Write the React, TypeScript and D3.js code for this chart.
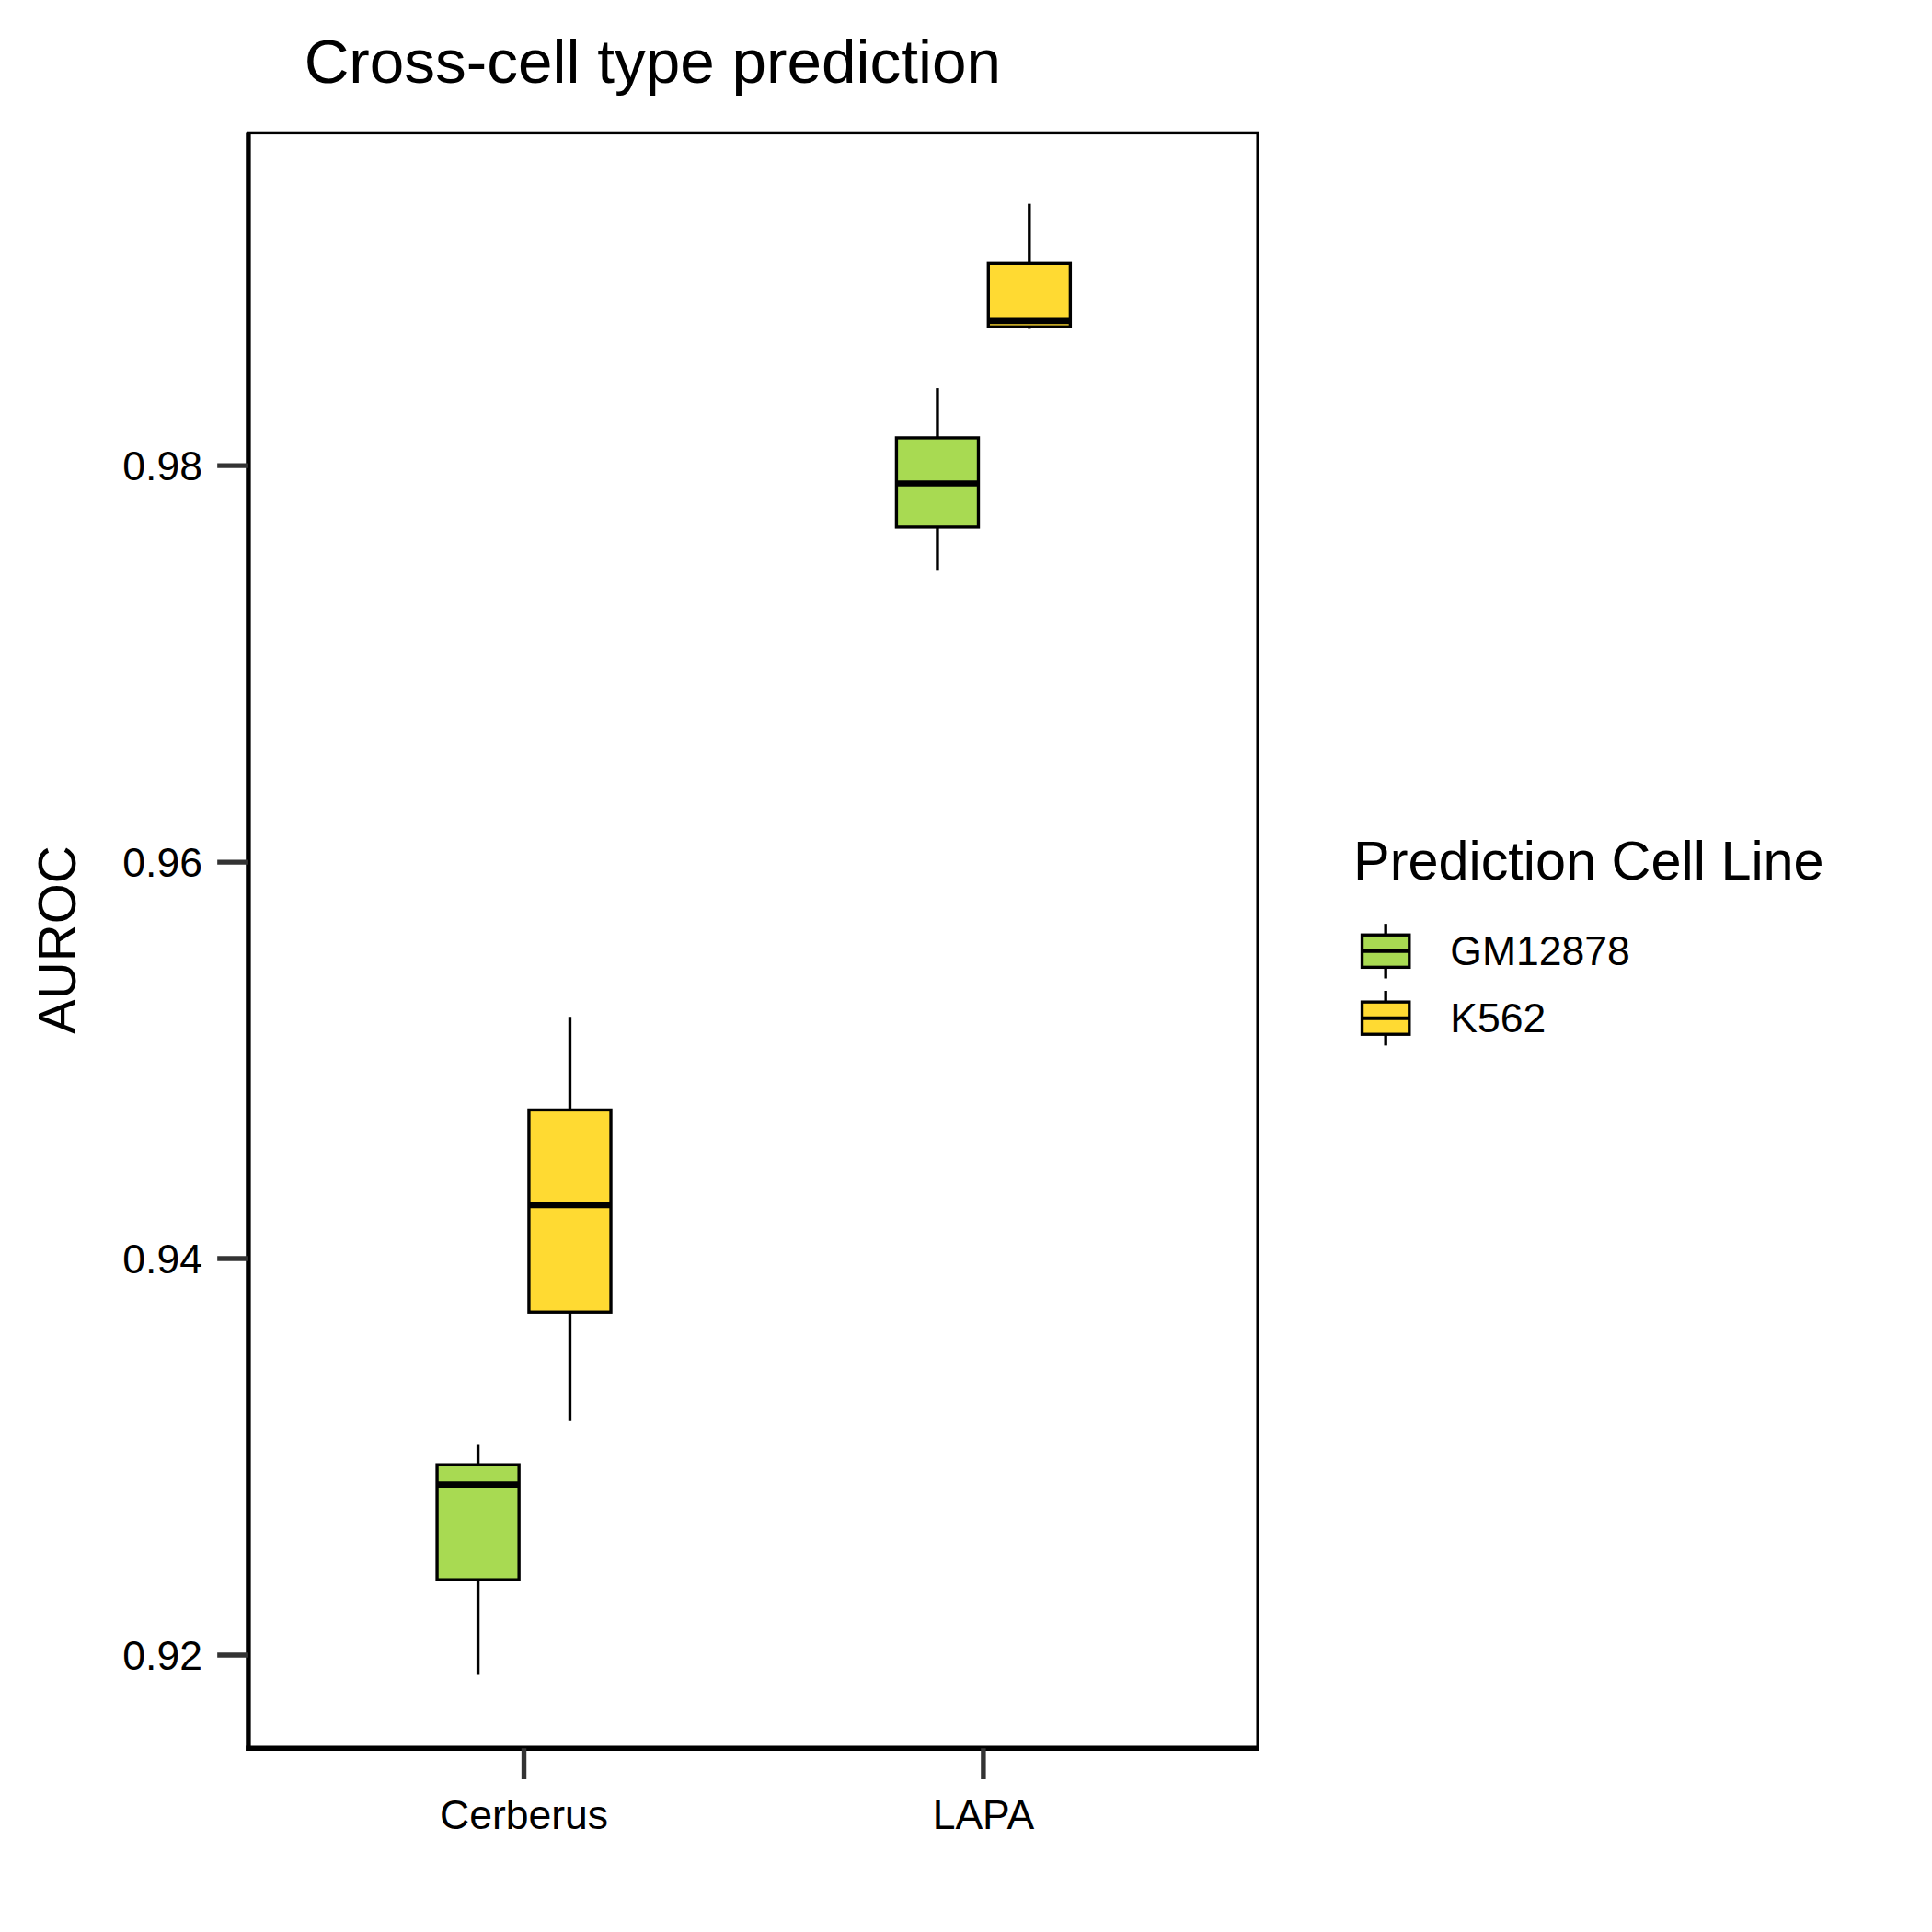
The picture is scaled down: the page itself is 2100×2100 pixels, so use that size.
import React, { useRef, useEffect } from "react";
import * as d3 from "d3";

// Box statistics: [min, q1, median, q3, max]
const methods = ["Cerberus", "LAPA"];
const cellLines = ["GM12878", "K562"];
const colors = ["#A8DA52", "#FFDA32"];
const stats: Record<string, number[][]> = {
  Cerberus: [
    [0.919, 0.9238, 0.9286, 0.9296, 0.9306],
    [0.9318, 0.9373, 0.9427, 0.9475, 0.9522],
  ],
  LAPA: [
    [0.9747, 0.9769, 0.9791, 0.9814, 0.9839],
    [0.9869, 0.987, 0.9873, 0.9902, 0.9932],
  ],
};
const yTicks = [0.92, 0.94, 0.96, 0.98];

const App: React.FC = () => {
  const svgRef = useRef<SVGSVGElement>(null);

  useEffect(() => {
    if (!svgRef.current) return;
    const svg = d3.select(svgRef.current);
    svg.selectAll("*").remove();
    const font = "Liberation Sans, Arial, sans-serif";
    const L = 200, R = 1013, T = 107, B = 1408;

    const y = d3.scaleLinear().domain([0.92, 0.98]).range([1333, 375]);
    const x = d3.scalePoint().domain(methods).range([422, 792]);
    const dodge = 37, bw = 66;

    svg.append("rect").attr("x", L).attr("y", T).attr("width", R - L).attr("height", B - T)
      .attr("fill", "none").attr("stroke", "#000").attr("stroke-width", 2.5);
    svg.append("line").attr("x1", L).attr("x2", L).attr("y1", T).attr("y2", B + 2)
      .attr("stroke", "#000").attr("stroke-width", 4);
    svg.append("line").attr("x1", L - 2).attr("x2", R + 1).attr("y1", B).attr("y2", B)
      .attr("stroke", "#000").attr("stroke-width", 4);

    yTicks.forEach((t) => {
      svg.append("line").attr("x1", 175).attr("x2", L).attr("y1", y(t)).attr("y2", y(t))
        .attr("stroke", "#333").attr("stroke-width", 4);
      svg.append("text").attr("x", 163).attr("y", y(t)).attr("dy", "0.35em")
        .attr("text-anchor", "end").attr("font-family", font).attr("font-size", 33)
        .text(t.toFixed(2));
    });
    methods.forEach((m) => {
      svg.append("line").attr("x1", x(m)!).attr("x2", x(m)!).attr("y1", B).attr("y2", 1433)
        .attr("stroke", "#333").attr("stroke-width", 4);
      svg.append("text").attr("x", x(m)!).attr("y", 1473).attr("text-anchor", "middle")
        .attr("font-family", font).attr("font-size", 33).text(m);
    });

    methods.forEach((m) => {
      stats[m].forEach((s, i) => {
        const cx = x(m)! + (i === 0 ? -dodge : dodge);
        const [mn, q1, md, q3, mx] = s;
        const g = svg.append("g");
        g.append("line").attr("x1", cx).attr("x2", cx).attr("y1", y(mx)).attr("y2", y(mn))
          .attr("stroke", "#000").attr("stroke-width", 2.5);
        g.append("rect").attr("x", cx - bw / 2).attr("width", bw)
          .attr("y", y(q3)).attr("height", y(q1) - y(q3))
          .attr("fill", colors[i]).attr("stroke", "#000").attr("stroke-width", 2.5);
        g.append("line").attr("x1", cx - bw / 2).attr("x2", cx + bw / 2)
          .attr("y1", y(md)).attr("y2", y(md)).attr("stroke", "#000").attr("stroke-width", 5);
      });
    });

    svg.append("text").attr("x", 245).attr("y", 67).attr("font-family", font)
      .attr("font-size", 50).text("Cross-cell type prediction");
    svg.append("text").attr("transform", "translate(61,757) rotate(-90)")
      .attr("text-anchor", "middle").attr("font-family", font).attr("font-size", 42).text("AUROC");

    svg.append("text").attr("x", 1090).attr("y", 708).attr("font-family", font)
      .attr("font-size", 44).text("Prediction Cell Line");
    cellLines.forEach((c, i) => {
      const ky = 766 + i * 54;
      svg.append("line").attr("x1", 1116).attr("x2", 1116).attr("y1", ky - 22).attr("y2", ky + 22)
        .attr("stroke", "#000").attr("stroke-width", 2.5);
      svg.append("rect").attr("x", 1097).attr("y", ky - 13).attr("width", 38).attr("height", 26)
        .attr("fill", colors[i]).attr("stroke", "#000").attr("stroke-width", 2.5);
      svg.append("line").attr("x1", 1097).attr("x2", 1135).attr("y1", ky).attr("y2", ky)
        .attr("stroke", "#000").attr("stroke-width", 3);
      svg.append("text").attr("x", 1168).attr("y", ky).attr("dy", "0.35em")
        .attr("font-family", font).attr("font-size", 33).text(c);
    });
  }, []);

  return (
    <svg ref={svgRef} width={2100} height={2100} viewBox="0 0 1556 1556"
      style={{ position: "absolute", left: 0, top: 0, background: "#fff" }} />
  );
};

export default App;
